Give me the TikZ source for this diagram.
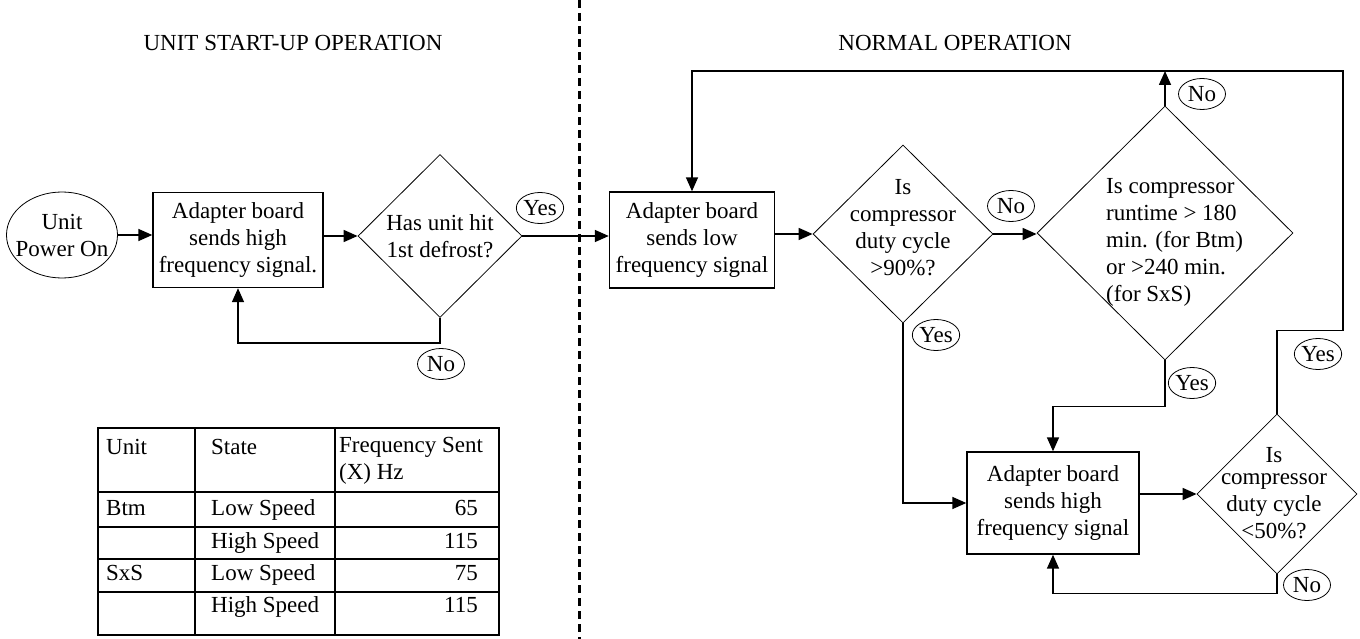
\documentclass[tikz,border=0pt]{standalone}
\usepackage{fontspec}
\setmainfont{Liberation Serif}
\usetikzlibrary{arrows.meta,shapes.geometric}

\begin{document}
\begin{tikzpicture}[
      x=1pt, y=-1pt,
      every node/.style={font=\fontsize{23}{27}\selectfont},
      proc/.style={rectangle, draw, line width=1.4pt, align=center, inner sep=0pt},
      decision/.style={diamond, draw, line width=0.8pt, inner sep=0pt},
      term/.style={ellipse, draw, line width=0.8pt, align=center, inner xsep=-10pt,
                   inner ysep=0pt, minimum width=111pt, minimum height=86pt},
      answer/.style={ellipse, draw, line width=0.8pt, inner sep=0pt,
                     minimum width=47pt, minimum height=31pt},
      qtext/.style={align=center, inner sep=0pt},
      cell/.style={inner sep=0pt, anchor=west, text height=16pt, text depth=5pt},
      flow/.style={-{Triangle[length=14pt,width=12pt]}, line width=1.6pt},
      divider/.style={line width=3pt, dash pattern=on 8pt off 5pt},
      tabline/.style={line width=1.2pt},
    ]
    \useasboundingbox (0,0) rectangle (1360,639);

    % titles and divider
    \node (titleA) at (293,43) {UNIT START-UP OPERATION};
    \node (titleB) at (955,43) {NORMAL OPERATION};
    \draw[divider] (579,0) -- (579,639);

    % start-up
    \node[term] (power) at (62,235) {Unit\\Power On};
    \node[proc, minimum width=170pt, minimum height=95pt] (hisig) at (238,240)
      {Adapter board\\sends high\\frequency signal.};
    \node[decision, minimum width=164pt, minimum height=163pt] (defrost) at (440,236) {};
    \node[qtext] at (defrost) {Has unit hit\\1st defrost?};

    % normal operation
    \node[proc, minimum width=165pt, minimum height=96pt] (losig) at (692,240)
      {Adapter board\\sends low\\frequency signal};
    \node[decision, minimum width=180pt, minimum height=178pt] (duty90) at (903,234) {};
    \node[qtext] at (903,228) {Is\\compressor\\duty cycle\\>90\%?};
    \node[decision, minimum width=256pt, minimum height=254pt] (runtime) at (1165,233) {};
    \node[qtext, align=left, anchor=west] at (1106,242)
      {Is compressor\\runtime > 180\\ min. (for Btm)\\or >240 min.\\(for SxS)};
    \node[proc, minimum width=172pt, minimum height=102pt] (hisig2) at (1053,503)
      {Adapter board\\sends high\\frequency signal};
    \node[decision, minimum width=160pt, minimum height=160pt] (duty50) at (1277,494) {};
    \node[qtext] at (1274,493) {Is\\[-5pt]compressor\\duty cycle\\<50\%?};

    % answers
    \node[answer] (yesA) at (540,208) {Yes};
    \node[answer] (noA) at (441,364) {No};
    \node[answer] (noB) at (1011,206) {No};
    \node[answer] (noC) at (1202,94) {No};
    \node[answer] (yesB) at (936,335) {Yes};
    \node[answer] (yesC) at (1192,383) {Yes};
    \node[answer] (yesD) at (1318,354) {Yes};
    \node[answer] (noD) at (1307,585) {No};

    \coordinate (topright) at (1343,71);

    \draw[flow] (power.east) -- (power.east -| hisig.west);
    \draw[flow] (hisig.east |- defrost) -- (defrost.west);
    \draw[flow] (defrost.south) -- ++(0,25) -| (hisig.south);
    \draw[flow] (defrost.east) -- (defrost.east -| losig.west);
    \draw[flow] (losig.east |- duty90) -- (duty90.west);
    \draw[flow] (duty90.east) -- (duty90.east -| runtime.west);
    \draw[flow] (runtime.north) -- (runtime.north |- topright);
    \draw[flow] (duty50.north) -- ++(0,-83) -| (topright) -| (losig.north);
    \draw[flow] (duty90.south) |- (hisig2.west);
    \draw[flow] (runtime.south) -- ++(0,46) -| (hisig2.north);
    \draw[flow] (hisig2.east |- duty50) -- (duty50.west);
    \draw[flow] (duty50.south) -- ++(0,19) -| (hisig2.south);

    % frequency table
    \draw[tabline] (98,428) rectangle (499,635);
    \draw[tabline] (195,428) -- (195,635);
    \draw[tabline] (335,428) -- (335,635);
    \draw[tabline] (98,492) -- (499,492);
    \draw[tabline] (98,527) -- (499,527);
    \draw[tabline] (98,559) -- (499,559);
    \draw[tabline] (98,592) -- (499,592);
    \node[cell] (hUnit) at (106,449) {Unit};
    \node[cell] (hState) at (211,449) {State};
    \node[cell, align=left, anchor=north west, text height=, text depth=] (hFreq) at (339,437)
      {Frequency Sent\\(X) Hz};
    \node[cell] (rBtm) at (106,510) {Btm};
    \node[cell] (sBtmLo) at (211,510) {Low Speed};
    \node[cell, anchor=east] (fBtmLo) at (478,510) {65};
    \node[cell] (sBtmHi) at (211,543) {High Speed};
    \node[cell, anchor=east] (fBtmHi) at (478,543) {115};
    \node[cell] (rSxS) at (106,575) {SxS};
    \node[cell] (sSxSLo) at (211,575) {Low Speed};
    \node[cell, anchor=east] (fSxSLo) at (478,575) {75};
    \node[cell] (sSxSHi) at (211,607) {High Speed};
    \node[cell, anchor=east] (fSxSHi) at (478,607) {115};
  \end{tikzpicture}
\end{document}
